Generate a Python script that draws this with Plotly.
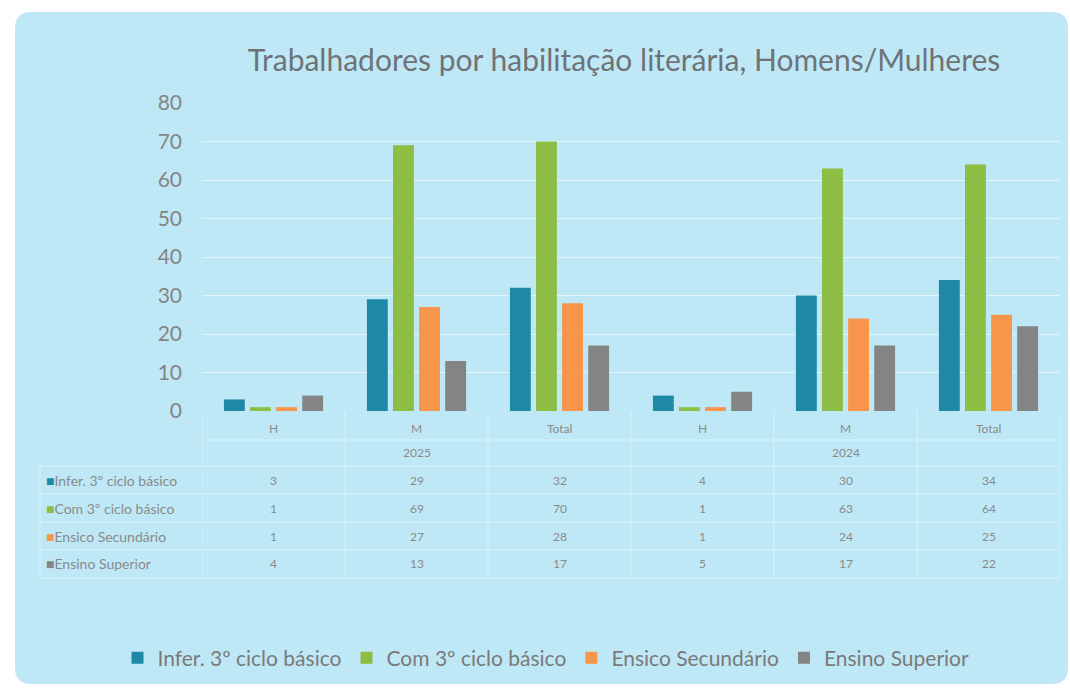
import plotly.graph_objects as go

# ---- data ----
years = ["2025", "2024"]
groups = ["H", "M", "Total"]
series_names = ["Infer. 3º ciclo básico", "Com 3º ciclo básico", "Ensico Secundário", "Ensino Superior"]
infer_3ciclo = [3, 29, 32, 4, 30, 34]
com_3ciclo = [1, 69, 70, 1, 63, 64]
secundario = [1, 27, 28, 1, 24, 25]
superior = [4, 13, 17, 5, 17, 22]
series_values = [infer_3ciclo, com_3ciclo, secundario, superior]
colors = ["#1d89a6", "#8dbd45", "#f7964a", "#848484"]

cats = [f"{y} {g}" for y in years for g in groups]

W, H = 1070, 689
ML, MR, MT, MB = 202, 10, 103, 278
PW, PH = W - ML - MR, H - MT - MB


def px_x(px):
    return (px - ML) / PW


def px_y(py):
    return (H - MB - py) / PH


fig = go.Figure()
for name, vals, col in zip(series_names, series_values, colors):
    fig.add_trace(go.Bar(x=cats, y=vals, name=name, marker_color=col,
                         marker_line_width=0))

text_col = "#8a8a8a"
ann = []
shapes = []

# background rounded box
x0, x1, y0, y1, r = 15, 1068, 12, 684, 16
path = (f"M {px_x(x0 + r)} {px_y(y0)} L {px_x(x1 - r)} {px_y(y0)} "
        f"Q {px_x(x1)} {px_y(y0)} {px_x(x1)} {px_y(y0 + r)} "
        f"L {px_x(x1)} {px_y(y1 - r)} Q {px_x(x1)} {px_y(y1)} {px_x(x1 - r)} {px_y(y1)} "
        f"L {px_x(x0 + r)} {px_y(y1)} Q {px_x(x0)} {px_y(y1)} {px_x(x0)} {px_y(y1 - r)} "
        f"L {px_x(x0)} {px_y(y0 + r)} Q {px_x(x0)} {px_y(y0)} {px_x(x0 + r)} {px_y(y0)} Z")
shapes.append(dict(type="path", xref="paper", yref="paper", path=path,
                   fillcolor="#bfe8f6", line=dict(width=0), layer="below"))

# table: group labels
for c, g in zip(cats, groups * len(years)):
    ann.append(dict(x=c, y=px_y(428), xref="x", yref="paper", yanchor="middle", text=g,
                    showarrow=False, font=dict(size=12, color=text_col, family="Lato")))
# years
for i, y in enumerate(years):
    ann.append(dict(x=cats[i * len(groups) + 1], y=px_y(452), xref="x", yref="paper", yanchor="middle",
                    text=y, showarrow=False, font=dict(size=12, color=text_col, family="Lato")))
# rows
row_y = [480, 508, 536, 563]
for name, vals, col, ry in zip(series_names, series_values, colors, row_y):
    ann.append(dict(x=px_x(44), y=px_y(ry), xref="paper", yref="paper", xanchor="left", yanchor="middle",
                    text=f"<span style='color:{col}'>■</span>{name}", showarrow=False,
                    font=dict(size=14, color=text_col, family="Lato")))
    for c, v in zip(cats, vals):
        ann.append(dict(x=c, y=px_y(ry), xref="x", yref="paper", yanchor="middle", text=str(v),
                        showarrow=False, font=dict(size=12, color=text_col, family="Lato")))

line_col = "rgba(232,247,252,0.6)"
# horizontal table lines
for ly in [440, 466, 494, 522, 550, 578]:
    xs = px_x(40) if ly >= 466 else 0
    shapes.append(dict(type="line", xref="paper", yref="paper", x0=xs, x1=1, y0=px_y(ly), y1=px_y(ly),
                       line=dict(color=line_col, width=1)))
# vertical table lines
for k in range(len(cats) + 1):
    xv = k - 0.5
    shapes.append(dict(type="line", xref="x", yref="paper", x0=xv, x1=xv, y0=px_y(411), y1=px_y(578),
                       line=dict(color=line_col, width=1)))
shapes.append(dict(type="line", xref="paper", yref="paper", x0=px_x(40), x1=px_x(40),
                   y0=px_y(466), y1=px_y(578), line=dict(color=line_col, width=1)))

fig.update_layout(
    width=W, height=H,
    margin=dict(l=ML, r=MR, t=MT, b=MB, autoexpand=False),
    paper_bgcolor="white", plot_bgcolor="rgba(0,0,0,0)",
    title=dict(text="Trabalhadores por habilitação literária, Homens/Mulheres",
               x=624 / W, xanchor="center", y=1 - 60 / H, yanchor="middle",
               xref="container", yref="container",
               font=dict(family="Lato", size=30, color="#6f7377")),
    barmode="group", bargap=0.27, bargroupgap=0.2,
    font=dict(family="Lato", color=text_col),
    xaxis=dict(type="category", showticklabels=False, showgrid=False, zeroline=False,
               showline=False, range=[-0.5, len(cats) - 0.5]),
    yaxis=dict(range=[0, 80], dtick=10, showgrid=True, gridcolor="rgba(232,247,252,0.85)",
               gridwidth=1, zeroline=False, showline=False, ticks="",
               tickfont=dict(size=21, color="#858585", family="Lato"), ticklabelstandoff=19),
    legend=dict(orientation="h", xref="container", yref="container",
                x=546 / W, xanchor="center", y=1 - 658 / H, yanchor="middle",
                font=dict(size=21, color="#7a7a7a", family="Lato"), bgcolor="rgba(0,0,0,0)",
                itemwidth=30, traceorder="normal"),
    showlegend=True,
    annotations=ann, shapes=shapes,
)

fig.write_html("out.html", config={"displayModeBar": False},
               post_script="document.body.style.margin='0';")
